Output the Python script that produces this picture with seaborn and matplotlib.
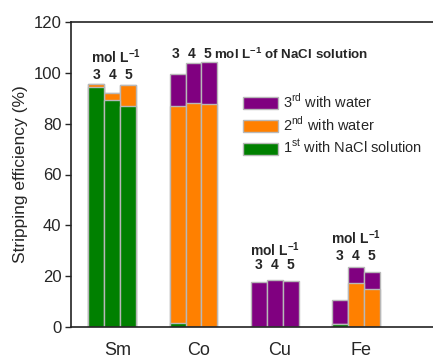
import numpy as np
import pandas as pd
import matplotlib
matplotlib.use("Agg")
import matplotlib.pyplot as plt
import matplotlib.transforms as mtransforms
from matplotlib.patches import Patch
import seaborn as sns

# ---- data ----
metals = ["Sm", "Co", "Cu", "Fe"]
concs = ["3", "4", "5"]
first_nacl = [94.4, 89.4, 87.1,   1.4, 0.0, 0.0,   0.0, 0.0, 0.0,   1.2, 0.0, 0.0]
second_water = [1.3, 2.6, 8.0,   85.6, 88.0, 87.8,   0.0, 0.0, 0.0,   0.0, 17.2, 15.1]
third_water = [0.0, 0.0, 0.0,   12.6, 15.8, 16.4,   17.6, 18.5, 18.1,   9.3, 6.3, 6.4]
legend_labels = [r"3$^{\rm rd}$ with water", r"2$^{\rm nd}$ with water",
                 r"1$^{\rm st}$ with NaCl solution"]
yticks = [0, 20, 40, 60, 80, 100, 120]

c_green = "#008000"
c_orange = "#FF8000"
c_purple = "#800080"

df = pd.DataFrame({
    "metal": np.repeat(metals, 3),
    "conc": concs * 4,
    "first": first_nacl,
    "second": second_water,
    "third": third_water,
})
df["cum2"] = df["first"] + df["second"]
df["cum3"] = df["cum2"] + df["third"]

sns.set_style("ticks")
plt.rcParams["font.family"] = ["Liberation Sans", "DejaVu Sans"]
plt.rcParams["mathtext.fontset"] = "custom"
plt.rcParams["mathtext.rm"] = "Liberation Sans"
plt.rcParams["mathtext.bf"] = "Liberation Sans:bold"

fig = plt.figure(figsize=(4.33, 3.59), dpi=100)
ax = fig.add_axes([71 / 433, (359 - 327) / 359, (445 - 71) / 433, 305 / 359])

edge = "#b8b8b8"
for col, color in [("cum3", c_purple), ("cum2", c_orange), ("first", c_green)]:
    sns.barplot(data=df, x="metal", y=col, hue="conc", order=metals, hue_order=concs,
                palette=[color] * 3, width=0.59, gap=0, edgecolor=edge, linewidth=1.0,
                legend=False, ax=ax, errorbar=None, saturation=1)

ax.set_xlim(-0.51, 4.1)
ax.set_ylim(0, 120)
ax.set_yticks(yticks)
ax.set_yticklabels([str(t) for t in yticks], fontsize=12)
ax.set_xlabel("")
ax.set_ylabel("Stripping efficiency (%)", fontsize=12.5, labelpad=4)
ax.tick_params(axis="x", length=0, labelsize=13, pad=11)
ax.tick_params(axis="y", length=4, width=1, direction="out", pad=3)
offset = mtransforms.ScaledTranslation(0.05, 0, fig.dpi_scale_trans)
for lab in ax.get_xticklabels():
    lab.set_transform(lab.get_transform() + offset)

for s in ["left", "top", "bottom"]:
    ax.spines[s].set_visible(True)
    ax.spines[s].set_color("#222222")
    ax.spines[s].set_linewidth(1.2)
ax.spines["right"].set_visible(False)

# annotations
bw = 0.197
tkw = dict(fontsize=10, fontweight="bold", ha="center", va="center")
# Sm
ax.text(0.04, 106.5, r"mol L$^{\mathbf{-1}}$", **tkw)
for i, c in enumerate(concs):
    ax.text(0 + (i - 1) * bw, 99.2, c, **tkw)
# Co
for i, c in enumerate(concs):
    ax.text(1 + (i - 1) * bw - 0.02, 107.4, c, **tkw)
ax.text(1 + bw + 0.06, 107.4, r"mol L$^{\mathbf{-1}}$ of NaCl solution",
        fontsize=9.6, fontweight="bold", ha="left", va="center")
# Cu
ax.text(2.0, 30.6, r"mol L$^{\mathbf{-1}}$", **tkw)
for i, c in enumerate(concs):
    ax.text(2 + (i - 1) * bw, 24.3, c, **tkw)
# Fe
ax.text(3.0, 35.2, r"mol L$^{\mathbf{-1}}$", **tkw)
for i, c in enumerate(concs):
    ax.text(3 + (i - 1) * bw, 28.0, c, **tkw)

handles = [Patch(facecolor=c_purple, edgecolor=edge),
           Patch(facecolor=c_orange, edgecolor=edge),
           Patch(facecolor=c_green, edgecolor=edge)]
fig.legend(handles, legend_labels, loc="upper left",
           bbox_to_anchor=(243 / 433, 1 - 92 / 359), frameon=False, fontsize=10.5,
           handlelength=2.4, handleheight=0.9, handletextpad=0.35, labelspacing=0.32,
           borderpad=0, borderaxespad=0)

fig.savefig("out.png", dpi=100)
